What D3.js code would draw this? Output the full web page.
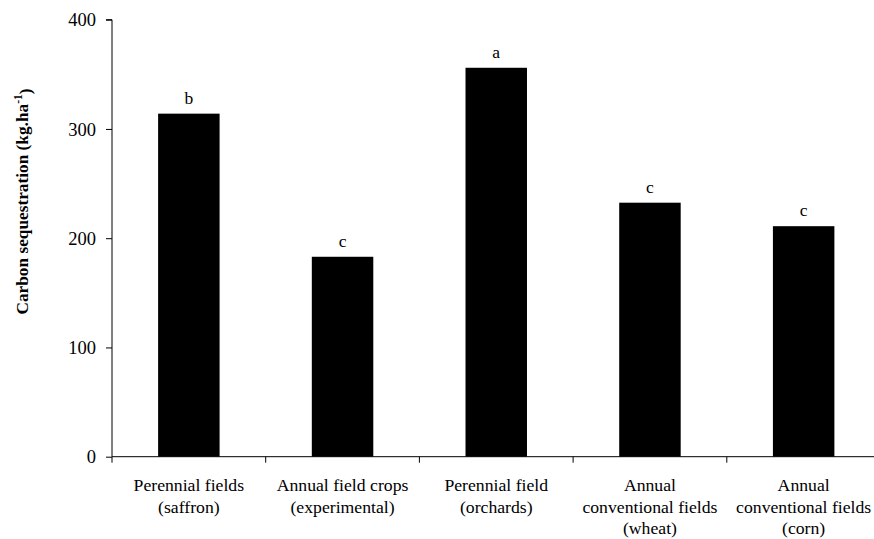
<!DOCTYPE html>
<html><head><meta charset="utf-8">
<script src="https://cdn.jsdelivr.net/npm/d3@7"></script>
<style>body{margin:0;background:#fff}svg{display:block}</style>
</head><body>
<svg id="c" width="874" height="539"></svg>
<script>
const categories = [
  ["Perennial fields","(saffron)"],
  ["Annual field crops","(experimental)"],
  ["Perennial field","(orchards)"],
  ["Annual","conventional fields","(wheat)"],
  ["Annual","conventional fields","(corn)"]
];
const values = [314, 183, 356, 232.5, 211];
const letters = ["b","c","a","c","c"];
const yTicks = [0,100,200,300,400];

const FONT = '"Liberation Serif"';
const svg = d3.select("#c");
const x0 = 112, x1 = 880.5, yTop = 19.7, yBot = 456.7;
const x = d3.scaleBand().domain(d3.range(categories.length)).range([x0,x1]).paddingInner(0.6).paddingOuter(0.3);
const y = d3.scaleLinear().domain([0,400]).range([yBot,yTop]);

// bars
svg.selectAll("rect.bar").data(values).join("rect")
  .attr("x",(d,i)=>x(i)).attr("width",x.bandwidth())
  .attr("y",d=>y(d)).attr("height",d=>yBot-y(d)).attr("fill","#000");

// letters
svg.selectAll("text.lt").data(values).join("text")
  .attr("x",(d,i)=>x(i)+x.bandwidth()/2).attr("y",d=>y(d)-10)
  .attr("text-anchor","middle").style("font-family",FONT).style("font-size","17.5px").text((d,i)=>letters[i]);

// y axis
const ya = svg.append("g").attr("transform",`translate(${x0},0)`)
  .call(d3.axisLeft(y).tickValues(yTicks).tickSize(6).tickPadding(10).tickFormat(d3.format("d")));
ya.select(".domain").attr("stroke","#000").attr("d",`M-6,${yTop}H0V${yBot}`);
ya.selectAll(".tick line").attr("stroke","#000");
ya.selectAll(".tick text").style("font-family",FONT).style("font-size","18.5px").attr("dy","0.34em").attr("fill","#000");

// x axis
svg.append("line").attr("x1",x0).attr("x2",874).attr("y1",yBot).attr("y2",yBot).attr("stroke","#000");
const step = x.step();
svg.selectAll("line.xt").data(d3.range(categories.length)).join("line")
  .attr("x1",i=>x(i)+x.bandwidth()/2-step/2).attr("x2",i=>x(i)+x.bandwidth()/2-step/2)
  .attr("y1",yBot).attr("y2",yBot+6).attr("stroke","#000");

// category labels
categories.forEach((lines,i)=>{
  const cx = x(i)+x.bandwidth()/2;
  const t = svg.append("text").attr("x",cx).attr("y",491)
    .attr("text-anchor","middle").style("font-family",FONT).style("font-size","17.7px");
  lines.forEach((l,k)=>t.append("tspan").attr("x",cx).attr("dy",k?21.5:0).text(l));
});

// y title
const yt = svg.append("text").attr("transform","translate(28,201.5) rotate(-90)")
  .attr("text-anchor","middle").style("font-family",FONT).style("font-size","17.3px").style("font-weight","bold");
yt.append("tspan").text("Carbon sequestration (kg.ha");
yt.append("tspan").attr("dy","-0.55em").style("font-size","11.5px").text("-1");
yt.append("tspan").attr("dy","0.55em").text(")");
</script>
</body></html>
